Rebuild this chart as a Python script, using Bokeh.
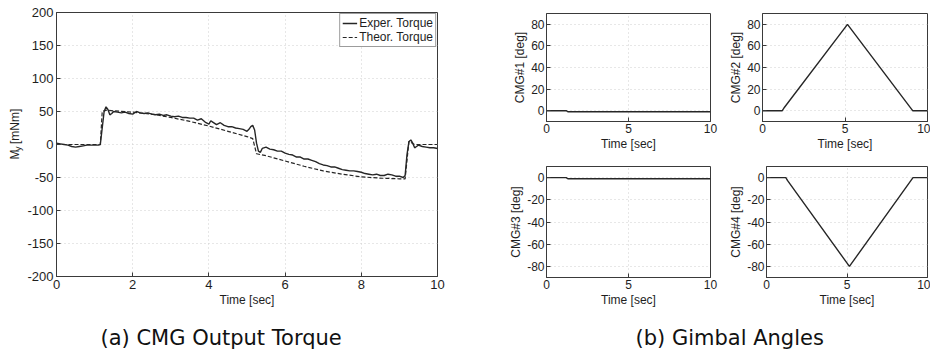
from bokeh.plotting import figure
from bokeh.layouts import row, column
from bokeh.models import Range1d, FixedTicker, Label, Legend, LegendItem, PrintfTickFormatter
from bokeh.embed import file_html
from bokeh.resources import INLINE

# ---------------- data ----------------
exp_t = [0.0, 0.1, 0.2, 0.3, 0.4, 0.5, 0.6, 0.7, 0.8, 0.9, 1.0, 1.1, 1.15, 1.2, 1.25, 1.3,
         1.35, 1.4, 1.45, 1.5, 1.6, 1.7, 1.8, 1.9, 2.0, 2.1, 2.2, 2.3, 2.4, 2.5, 2.6, 2.7,
         2.8, 2.9, 3.0, 3.1, 3.2, 3.3, 3.4, 3.5, 3.6, 3.7, 3.8, 3.9, 4.0, 4.05, 4.1, 4.2,
         4.3, 4.4, 4.5, 4.6, 4.7, 4.8, 4.9, 5.0, 5.05, 5.1, 5.15, 5.2, 5.25, 5.3, 5.35,
         5.4, 5.5, 5.6, 5.7, 5.8, 5.9, 6.0, 6.1, 6.2, 6.3, 6.4, 6.5, 6.6, 6.7, 6.8, 6.9,
         7.0, 7.1, 7.2, 7.3, 7.4, 7.5, 7.6, 7.7, 7.8, 7.9, 8.0, 8.1, 8.2, 8.3, 8.4, 8.5,
         8.6, 8.7, 8.8, 8.9, 9.0, 9.1, 9.15, 9.2, 9.25, 9.3, 9.35, 9.4, 9.45, 9.5, 9.6,
         9.7, 9.8, 9.9, 10.0]
exp_torque = [2, 1, 0, -1, -3, -4, -3, -2, -1, -1, -1, -1, 0, 25, 50, 57,
              53, 45, 47, 50, 49, 48, 49, 47, 46, 50, 48, 47, 48, 46, 45, 46,
              44, 45, 43, 42, 43, 41, 41, 40, 40, 37, 39, 34, 31, 36, 34, 30,
              33, 29, 27, 27, 25, 24, 23, 20, 23, 27, 29, 22, 2, -10, -12,
              -6, -4, -7, -8, -10, -10, -13, -15, -16, -19, -19, -22, -22, -24, -26, -29,
              -31, -32, -34, -34, -36, -38, -39, -40, -40, -41, -42, -44, -45, -46, -45, -47,
              -47, -45, -46, -48, -48, -50, -47, -15, 4, 7, 2, -5, -3, -1, -3,
              -4, -5, -5, -6]

theo_t = [0.0, 1.15, 1.2, 1.3, 1.5, 2.0, 2.5, 3.0, 3.5, 4.0, 4.5, 5.0, 5.15, 5.25, 5.5,
          6.0, 6.5, 7.0, 7.5, 8.0, 8.5, 9.0, 9.15, 9.25, 9.3, 9.4, 10.0]
theo_torque = [0, 0, 50, 52, 51, 49, 46, 41, 35, 28, 20, 12, 9, -14, -17,
               -25, -33, -40, -45, -49, -51, -52, -52, 5, 3, 0, 0]

g_t = [0.0, 1.2, 1.3, 5.15, 9.1, 10.0]
cmg1 = [0, 0, -1, -1, -1, -1]
cmg2 = [0, 0, 2.5, 80, 0, 0]
cmg3 = [0, 0, -1, -1, -1, -1]
cmg4 = [0, 0, -2.5, -80, 0, 0]

torque_xticks = [0, 2, 4, 6, 8, 10]
torque_yticks = [-200, -150, -100, -50, 0, 50, 100, 150, 200]
g_xticks = [0, 5, 10]
g_yticks_pos = [0, 20, 40, 60, 80]
g_yticks_neg = [-80, -60, -40, -20, 0]

captions = ["(a) CMG Output Torque", "(b) Gimbal Angles"]
caption_x = [100, 635]

FONT = "Liberation Sans"
TXT = "#1e1e1e"
LINE = "#262626"
FRAME = "#3a3a3a"


def style(p, xt, yt, fs, xlabel, ylabel=None):
    p.outline_line_color = FRAME
    p.outline_line_width = 1
    for ax in (p.xaxis[0], p.yaxis[0]):
        ax.major_tick_in = 4
        ax.major_tick_out = 0
        ax.minor_tick_line_color = None
        ax.axis_line_color = FRAME
        ax.major_tick_line_color = FRAME
        ax.major_label_text_font = FONT
        ax.major_label_text_font_size = fs
        ax.major_label_text_color = TXT
        ax.axis_label_text_font = FONT
        ax.axis_label_text_font_style = "normal"
        ax.axis_label_text_font_size = "12px"
        ax.axis_label_text_color = TXT
        ax.major_label_standoff = 2
        ax.axis_label_standoff = 1
        ax.formatter = PrintfTickFormatter(format="%d")
    p.xaxis[0].ticker = FixedTicker(ticks=xt)
    p.yaxis[0].ticker = FixedTicker(ticks=yt)
    p.xaxis[0].axis_label = xlabel
    if ylabel:
        p.yaxis[0].axis_label = ylabel
    for g in (p.xgrid[0], p.ygrid[0]):
        g.grid_line_color = "#cfcfcf"
        g.grid_line_dash = "1 3"
        g.grid_line_width = 1
    p.xgrid[0].ticker = FixedTicker(ticks=xt)
    p.ygrid[0].ticker = FixedTicker(ticks=yt)
    p.background_fill_color = "white"
    p.border_fill_color = "white"


def blank(w, h):
    f = figure(width=w, height=h, x_range=Range1d(0, w), y_range=Range1d(0, h),
               output_backend="svg", toolbar_location=None, min_border=0,
               x_axis_type=None, y_axis_type=None)
    f.outline_line_color = None
    f.xgrid.visible = False
    f.ygrid.visible = False
    return f


# ---------------- left: y-label strip ("M_y [mNm]") ----------------
ylab = blank(24, 309)
lab_kw = dict(angle=1.5707963, text_font=FONT, text_color=TXT,
              text_baseline="middle", text_align="left")
ylab.add_layout(Label(x=14, y=137, text="M", text_font_size="12px", **lab_kw))
ylab.add_layout(Label(x=17.5, y=147, text="y", text_font_size="9px", **lab_kw))
ylab.add_layout(Label(x=14, y=155, text="[mNm]", text_font_size="12px", **lab_kw))

# ---------------- left: torque ----------------
p = figure(width=446, height=309, x_range=Range1d(0, 10), y_range=Range1d(-200, 200),
           output_backend="svg", toolbar_location=None,
           min_border_left=31, min_border_right=33, min_border_top=12, min_border_bottom=32)
style(p, torque_xticks, torque_yticks, "13px", "Time [sec]")
p.xaxis[0].major_label_standoff = 3
p.yaxis[0].major_label_standoff = 3

r_exp = p.line(exp_t, exp_torque, line_color=LINE, line_width=1.4)
r_theo = p.line(theo_t, theo_torque, line_color=LINE, line_width=1.2, line_dash="4 2")

leg = Legend(items=[LegendItem(label="Exper. Torque", renderers=[r_exp]),
                    LegendItem(label="Theor. Torque", renderers=[r_theo])],
             location="top_right", margin=1, padding=2, spacing=0,
             label_standoff=2, glyph_width=15, glyph_height=14, label_height=14,
             label_text_font=FONT, label_text_font_size="12px", label_text_color=TXT,
             border_line_color=FRAME, border_line_width=1, background_fill_color="white",
             background_fill_alpha=1)
p.add_layout(leg)


# ---------------- right: gimbal angles ----------------
def gfig(w, h, yr, ml, mr, mb):
    return figure(width=w, height=h, x_range=Range1d(0, 10), y_range=Range1d(*yr),
                  output_backend="svg", toolbar_location=None,
                  min_border_left=ml, min_border_right=mr, min_border_top=13,
                  min_border_bottom=mb)


f1 = gfig(256, 153, (-10, 90), 76, 16, 30)
style(f1, g_xticks, g_yticks_pos, "12px", "Time [sec]", "CMG#1 [deg]")
f1.line(g_t, cmg1, line_color=LINE, line_width=1.4)

f2 = gfig(204, 153, (-10, 90), 36, 3, 30)
style(f2, g_xticks, g_yticks_pos, "12px", "Time [sec]", "CMG#2 [deg]")
f2.line(g_t, cmg2, line_color=LINE, line_width=1.4)

f3 = gfig(256, 156, (-90, 10), 76, 16, 32)
style(f3, g_xticks, g_yticks_neg, "12px", "Time [sec]", "CMG#3 [deg]")
f3.line(g_t, cmg3, line_color=LINE, line_width=1.4)

f4 = gfig(204, 156, (-90, 10), 36, 3, 32)
style(f4, g_xticks, g_yticks_neg, "12px", "Time [sec]", "CMG#4 [deg]")
f4.line(g_t, cmg4, line_color=LINE, line_width=1.4)

# ---------------- captions strip ----------------
cap = blank(930, 42)
for txt, cx in zip(captions, caption_x):
    cap.add_layout(Label(x=cx, y=14, text=txt, text_font="DejaVu Sans",
                         text_font_size="21px", text_color="#111111",
                         text_baseline="middle"))

layout = column(row(ylab, p, column(row(f1, f2), row(f3, f4))), cap)

open("out.html", "w").write(file_html(layout, INLINE))
